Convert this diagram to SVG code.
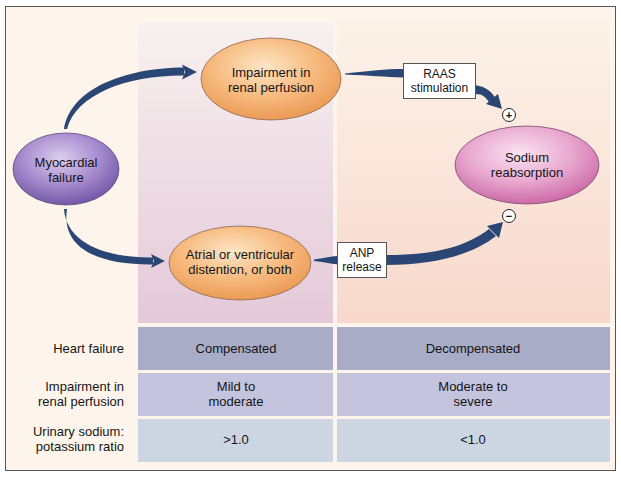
<svg xmlns="http://www.w3.org/2000/svg" width="621" height="477" viewBox="0 0 621 477">
<defs>
<linearGradient id="bandMid" x1="0" y1="0" x2="0" y2="1">
<stop offset="0" stop-color="#f8f1ef"/>
<stop offset="1" stop-color="#e4c9d9"/>
</linearGradient>
<linearGradient id="bandRight" x1="0" y1="0" x2="0" y2="1">
<stop offset="0" stop-color="#fcf2e8"/>
<stop offset="1" stop-color="#f8d8cc"/>
</linearGradient>
<radialGradient id="gOrange" cx="0.45" cy="0.35" r="0.65">
<stop offset="0" stop-color="#fde6c6"/>
<stop offset="0.55" stop-color="#f7bb80"/>
<stop offset="1" stop-color="#eb9a55"/>
</radialGradient>
<radialGradient id="gPurple" cx="0.45" cy="0.35" r="0.65">
<stop offset="0" stop-color="#dccdee"/>
<stop offset="0.55" stop-color="#a88dcf"/>
<stop offset="1" stop-color="#7458a8"/>
</radialGradient>
<radialGradient id="gPink" cx="0.45" cy="0.35" r="0.65">
<stop offset="0" stop-color="#fae3f1"/>
<stop offset="0.55" stop-color="#e9a9d0"/>
<stop offset="1" stop-color="#cc6aa8"/>
</radialGradient>
</defs>
<style>
text{font-family:"Liberation Sans",Arial,sans-serif;font-size:13px;fill:#151515;}
.c{text-anchor:middle;}
.r{text-anchor:end;}
.small{font-size:12px;}
.node{stroke-width:0.8;}
.box{fill:#ffffff;stroke:#555555;stroke-width:1;}
.arrow{fill:#2a4675;stroke:none;}
.sign{fill:#ffffff;stroke:#222222;stroke-width:1;}
</style>
<rect x="5.5" y="6.5" width="610" height="464" fill="#fdf5eb" stroke="#555555" stroke-width="1"/>
<rect x="138" y="22" width="195" height="301" fill="url(#bandMid)"/>
<rect x="337" y="22" width="273" height="301" fill="url(#bandRight)"/>
<g id="table">
<rect x="138" y="327" width="195" height="43" fill="#a9acc7"/>
<rect x="337" y="327" width="273" height="43" fill="#a9acc7"/>
<rect x="138" y="373" width="195" height="43" fill="#c4c4df"/>
<rect x="337" y="373" width="273" height="43" fill="#c4c4df"/>
<rect x="138" y="419" width="195" height="43" fill="#ccd5e2"/>
<rect x="337" y="419" width="273" height="43" fill="#ccd5e2"/>
<text class="r" x="124" y="353">Heart failure</text>
<text class="r" x="124" y="391">Impairment in</text>
<text class="r" x="124" y="406">renal perfusion</text>
<text class="r" x="124" y="436">Urinary sodium:</text>
<text class="r" x="124" y="451">potassium ratio</text>
<text class="c" x="236" y="353">Compensated</text>
<text class="c" x="473" y="353">Decompensated</text>
<text class="c" x="236" y="391">Mild to</text>
<text class="c" x="236" y="406">moderate</text>
<text class="c" x="473" y="391">Moderate to</text>
<text class="c" x="473" y="406">severe</text>
<text class="c" x="236" y="444">&gt;1.0</text>
<text class="c" x="473" y="444">&lt;1.0</text>
</g>
<g id="connectors">
<path class="arrow" d="M64,129 C70,90 122,68 184,67.5 L184,75.5 C128,75 76,94 67,129 Z"/>
<path class="arrow" d="M182,64.5 L197,72 L182,79.5 L185,72 Z"/>
<path class="arrow" d="M64,209 C66,240 100,258 153,257.5 L153,264.5 C96,265 61,247 67,209 Z"/>
<path class="arrow" d="M151,254 L165,261 L151,268 L154,261 Z"/>
<path class="arrow" d="M345,73.5 C370,71 385,69 403,69 L403,77.5 C385,77 370,75.5 345,74.5 Z"/>
<path class="arrow" d="M475,85 C487,87 492,92 496,99 L490,104 C486,97 483,94 475,94 Z"/>
<path class="arrow" d="M486,104 L498,94 L502,109 Z"/>
<path class="arrow" d="M386,255 C440,255 468,245 489,229 L496,236 C476,252 440,265 386,265 Z"/>
<path class="arrow" d="M487,226 L499,238 L503,222 Z"/>
<path class="arrow" d="M314,259.5 C323,258 330,256.5 338,256 L338,264.5 C330,263.5 323,262 314,261 Z"/>
</g>
<g id="myocardial">
<ellipse class="node" cx="66" cy="169" rx="53" ry="36" fill="url(#gPurple)" stroke="#5a4a7a"/>
<text class="c" x="66" y="167">Myocardial</text>
<text class="c" x="66" y="182">failure</text>
</g>
<g id="impairment">
<ellipse class="node" cx="271" cy="79" rx="70" ry="41" fill="url(#gOrange)" stroke="#8a6a55"/>
<text class="c" x="271" y="77">Impairment in</text>
<text class="c" x="271" y="92">renal perfusion</text>
</g>
<g id="atrial">
<ellipse class="node" cx="240" cy="263" rx="71" ry="37" fill="url(#gOrange)" stroke="#8a6a55"/>
<text class="c" x="240" y="259">Atrial or ventricular</text>
<text class="c" x="240" y="274">distention, or both</text>
</g>
<g id="sodium">
<ellipse class="node" cx="527" cy="165" rx="72" ry="39" fill="url(#gPink)" stroke="#7a4a6a"/>
<text class="c" x="527" y="162">Sodium</text>
<text class="c" x="527" y="177">reabsorption</text>
</g>
<g id="raas">
<rect class="box" x="403.5" y="63.5" width="72" height="35"/>
<text class="c small" x="439.5" y="78">RAAS</text>
<text class="c small" x="439.5" y="92">stimulation</text>
</g>
<g id="anp">
<rect class="box" x="337.5" y="242.5" width="49" height="35"/>
<text class="c small" x="362" y="257">ANP</text>
<text class="c small" x="362" y="271">release</text>
</g>
<g id="plus">
<circle class="sign" cx="509" cy="115" r="6.5"/>
<text class="c" x="509" y="119" style="font-size:11px;font-weight:bold">+</text>
</g>
<g id="minus">
<circle class="sign" cx="509" cy="216" r="6.5"/>
<text class="c" x="509" y="220" style="font-size:11px;font-weight:bold">−</text>
</g>
</svg>
